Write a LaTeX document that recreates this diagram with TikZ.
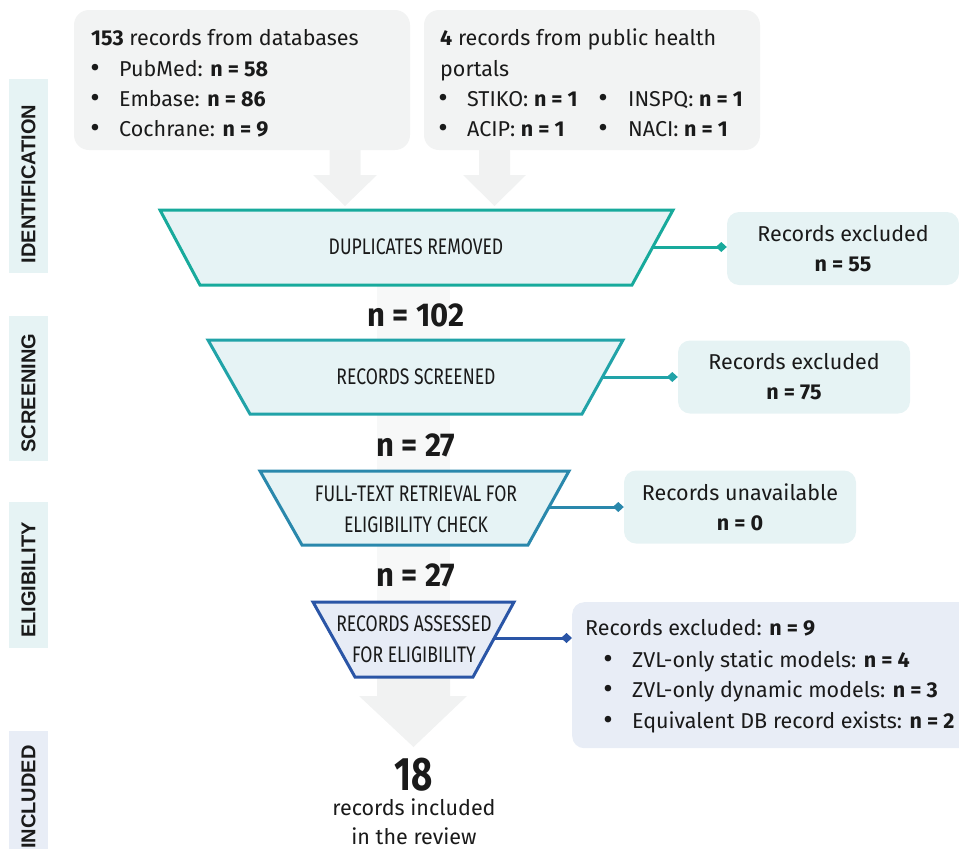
\documentclass[tikz,border=0pt]{standalone}
\usepackage{fontspec}
\setmainfont{Fira Sans}
\newfontfamily\narrowfont[FakeStretch=0.78]{Fira Sans}
\newfontfamily\countfont[FakeStretch=0.94]{Fira Sans}
\newfontfamily\phasefont{Liberation Sans}
\usetikzlibrary{arrows.meta}

\definecolor{ink}{HTML}{1A1A1A}
\definecolor{srcgray}{HTML}{F2F3F3}
\definecolor{bandgray}{HTML}{F7F8F8}
\definecolor{arrowgray}{HTML}{F1F2F2}
\definecolor{tealA}{HTML}{18AA9C}
\definecolor{tealB}{HTML}{21A3A8}
\definecolor{tealC}{HTML}{2A88AC}
\definecolor{blueD}{HTML}{2A55A6}
\definecolor{funfill}{HTML}{E6F3F5}
\definecolor{funfillD}{HTML}{E7ECF6}
\definecolor{phasefill}{HTML}{E6F3F4}
\definecolor{phasefillD}{HTML}{E8EDF6}

\newcommand{\dotmark}{\raisebox{-1.5pt}{\fontsize{29}{29}\selectfont\textbullet}}

\begin{document}
\begin{tikzpicture}[x=1pt,y=-1pt,
    srcbox/.style={fill=srcgray, rounded corners=15pt},
    srcline/.style={anchor=base west, inner sep=0pt, text=ink, font=\fontsize{21.5}{24}\selectfont},
    dotline/.style={anchor=base, inner sep=0pt, text=ink},
    funnel/.style={line width=3pt, fill=funfill, line join=miter},
    funtext/.style={text=ink, align=center, font=\narrowfont\fontsize{22.5}{31}\selectfont},
    count/.style={text=ink, font=\countfont\bfseries\fontsize{33}{33}\selectfont},
    excbox/.style={fill=phasefill, rounded corners=12pt, minimum width=232pt, minimum height=73pt,
        align=center, text=ink, font=\fontsize{21.5}{30}\selectfont},
    link/.style={line width=3pt, -{Diamond[length=11pt,width=10pt]}},
    phasetext/.style={rotate=90, text=ink, font=\phasefont\bfseries\fontsize{20}{20}\selectfont}]
    \useasboundingbox (0,0) rectangle (959,849);

    % phase labels on the left
    \fill[phasefill] (9,79) rectangle (48,273);
    \fill[phasefill] (9,316) rectangle (48,461);
    \fill[phasefill] (9,502) rectangle (48,648);
    \fill[phasefillD] (9,731) rectangle (48,880);
    \node[phasetext] (idf) at (28.5,184) {IDENTIFICATION};
    \node[phasetext] (scr) at (28.5,393) {SCREENING};
    \node[phasetext] (elg) at (28.5,580) {ELIGIBILITY};
    \node[phasetext] (inc) at (28.5,797) {INCLUDED};

    % gray arrows and band behind the funnel
    \fill[arrowgray] (329.5,140) -- (360.5,140) -- (360.5,175) -- (377,175) -- (345,206)
        -- (313,175) -- (329.5,175) -- cycle;
    \fill[arrowgray] (479,140) -- (510,140) -- (510,175) -- (526,175) -- (494.5,206)
        -- (463,175) -- (479,175) -- cycle;
    \fill[bandgray] (377,280) rectangle (450,680);
    \fill[arrowgray] (377,670) -- (450,670) -- (450,696) -- (467,696) -- (413.5,747)
        -- (359,696) -- (377,696) -- cycle;

    % sources
    \fill[srcbox] (74,10) rectangle (410,150);
    \fill[srcbox] (424,10) rectangle (760,150);
    \node[srcline] (dbhead) at (91,45) {\textbf{153} records from databases};
    \foreach \yy/\src/\num [count=\i] in {76/PubMed/58, 106/Embase/86, 136/Cochrane/9} {
        \node[dotline] (db\i b) at (95,\yy) {\dotmark};
        \node[srcline] (db\i) at (119,\yy) {\src: \textbf{n = \num}};
    }
    \node[srcline] (phhead) at (440,45) {\textbf{4} records from public health};
    \node[srcline] (phhead2) at (440,76) {portals};
    \node[dotline] (ph1b) at (443,106) {\dotmark};
    \node[srcline] (ph1) at (467,106) {STIKO: \textbf{n = 1}};
    \node[dotline] (ph2b) at (603,106) {\dotmark};
    \node[srcline] (ph2) at (628,106) {INSPQ: \textbf{n = 1}};
    \node[dotline] (ph3b) at (443,136) {\dotmark};
    \node[srcline] (ph3) at (467,136) {ACIP: \textbf{n = 1}};
    \node[dotline] (ph4b) at (603,136) {\dotmark};
    \node[srcline] (ph4) at (628,136) {NACI: \textbf{n = 1}};

    % funnel
    \draw[funnel, draw=tealA] (160,210) -- (673,210) -- (632,285) -- (200,285) -- cycle;
    \node[funtext] (dup) at (416,247) {DUPLICATES REMOVED};
    \coordinate (dupR) at (652.5,247);
    \node[count] (n1) at (416,315) {n = 102};

    \draw[funnel, draw=tealB] (208,340) -- (623,340) -- (582,414) -- (250,414) -- cycle;
    \node[funtext] (scrd) at (416,377) {RECORDS SCREENED};
    \coordinate (scrdR) at (603,377);
    \node[count] (n2) at (416,445) {n = 27};

    \draw[funnel, draw=tealC] (260,471) -- (569,471) -- (528,545) -- (302,545) -- cycle;
    \node[funtext] (ret) at (416,509) {FULL-TEXT RETRIEVAL FOR\\ELIGIBILITY CHECK};
    \coordinate (retR) at (549,507);
    \node[count] (n3) at (416,575) {n = 27};

    \draw[funnel, draw=blueD, fill=funfillD] (313,602) -- (514,602) -- (473,677) -- (355,677) -- cycle;
    \node[funtext] (ass) at (414,639) {RECORDS ASSESSED\\FOR ELIGIBILITY};
    \coordinate (assR) at (494,638);

    % result
    \node[text=ink, font=\narrowfont\bfseries\fontsize{47}{47}\selectfont] (fin) at (414,775) {18};
    \node[text=ink, align=center, font=\fontsize{21.5}{29}\selectfont] (fintxt) at (414,822)
        {records included\\in the review};

    % exclusion boxes
    \node[excbox] (exc1) at (843,248.5) {Records excluded\\\textbf{n = 55}};
    \node[excbox] (exc2) at (794,377) {Records excluded\\\textbf{n = 75}};
    \node[excbox] (exc3) at (740,507) {Records unavailable\\\textbf{n = 0}};
    \node[excbox, fill=phasefillD, anchor=north west, minimum width=400pt, minimum height=146pt]
        (exc4) at (572,602) {};
    \node[srcline] (ex4h) at (585,635) {Records excluded: \textbf{n = 9}};
    \foreach \yy/\why/\num [count=\i] in {667/ZVL-only static models/4,
        697/ZVL-only dynamic models/3, 728/Equivalent DB record exists/2} {
        \node[dotline] (ex\i b) at (608,\yy) {\dotmark};
        \node[srcline] (ex\i) at (632,\yy) {\why: \textbf{n = \num}};
    }

    \draw[link, tealA] (dupR) -- (dupR -| exc1.west);
    \draw[link, tealB] (scrdR) -- (scrdR -| exc2.west);
    \draw[link, tealC] (retR) -- (retR -| exc3.west);
    \draw[link, blueD] (assR) -- (assR -| exc4.west);
\end{tikzpicture}
\end{document}
